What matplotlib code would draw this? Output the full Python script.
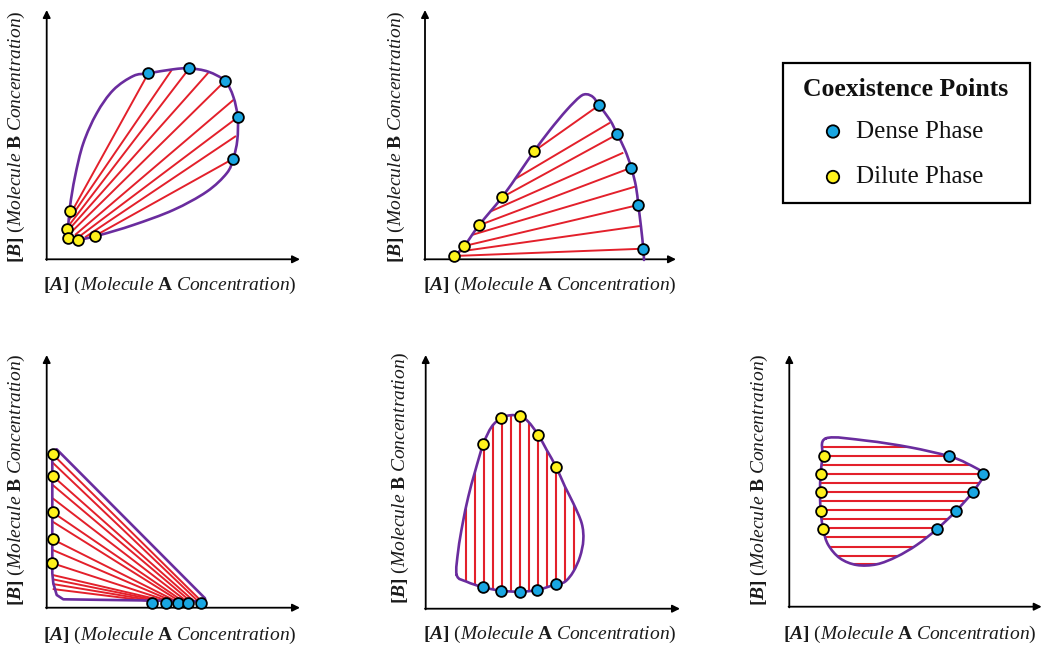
import numpy as np
import matplotlib
matplotlib.use('Agg')
import matplotlib.pyplot as plt
from matplotlib.path import Path
from matplotlib.patches import PathPatch, Rectangle

plt.rcParams['font.family'] = 'Liberation Serif'
plt.rcParams['mathtext.fontset'] = 'custom'
plt.rcParams['mathtext.rm'] = 'Liberation Serif'
plt.rcParams['mathtext.it'] = 'Liberation Serif:italic'
plt.rcParams['mathtext.bf'] = 'Liberation Serif:bold'
plt.rcParams['mathtext.bfit'] = 'Liberation Serif:italic:bold'

W, H = 1050, 652

PURPLE = '#6a2c9e'
RED = '#e3202b'
BLUE = '#19a6e2'
YELLOW = '#fff21c'

XLABEL = r'$\mathbf{[}\mathbfit{A}\mathbf{]}\ \mathit{(Molecule}\ \mathbf{A}\ \mathit{Concentration)}$'
YLABEL = r'$\mathbf{[}\mathbfit{B}\mathbf{]}\ \mathit{(Molecule}\ \mathbf{B}\ \mathit{Concentration)}$'

# ---------------------------------------------------------------- data
# all values are read off the picture, in image pixels (y grows downward)

# panel 1 : fan of tie lines
p1_boundary = [(67.7, 233.3), (70, 206.7), (75, 176.7), (83.3, 143.3), (96.7, 113.3),
               (113.3, 90), (133.3, 76), (148.3, 73.3), (173.3, 69.3), (189.3, 68.3),
               (208.3, 71.7), (225, 81), (233.3, 96.7), (237.7, 117.3), (237.3, 140),
               (233.3, 158.7), (226.7, 173.3), (206.7, 191.7), (173.3, 210), (133.3, 225),
               (100, 235), (80, 239.3), (68.3, 237.3)]
p1_tie_start = [(69, 216.7), (69, 220), (70, 224), (70, 228.3), (71.7, 231.7),
                (75, 235), (78.3, 237.3), (85, 237.3), (94.7, 236)]
p1_tie_end = [(148.3, 73.3), (171.7, 70), (189.3, 68.3), (208.3, 72.7), (225, 81),
              (233.3, 100), (237.7, 117.3), (236, 136), (233.3, 158.7)]
p1_dense = [(148.3, 73.3), (189.3, 68.3), (225, 81), (237.7, 117.3), (233.3, 158.7)]
p1_dilute = [(70, 210.7), (66.7, 229), (67.7, 238.3), (77.7, 240), (94.7, 236)]

# panel 2 : open dome
p2_boundary = [(454, 256.7), (464.3, 246), (479, 225.3), (502, 197.3), (520, 171.7),
               (534.3, 151), (550, 130), (566.7, 110), (580, 96.7), (586.7, 94.3),
               (593.3, 97.3), (599, 105.3), (610, 120), (617.3, 134.3), (625, 150),
               (631.3, 167.7), (636, 186.7), (638.3, 205), (641, 226.7), (643.3, 248.7),
               (644, 260)]
p2_tie_start = [(534.3, 151), (515, 179), (502, 197.3), (490, 211.7), (479, 225.3),
                (471.7, 235), (464.3, 246), (458.3, 251.7), (454, 256)]
p2_tie_end = [(599, 105.3), (610, 122.7), (617.3, 134.3), (623.3, 152.7), (631.3, 167.7),
              (635, 186.7), (638.3, 205), (640, 226), (643.3, 248.7)]
p2_dense = [(599, 105.3), (617.3, 134.3), (631.3, 167.7), (638.3, 205), (643.3, 248.7)]
p2_dilute = [(534.3, 151), (502, 197.3), (479, 225.3), (464.3, 246), (454, 256)]

# panel 3 : triangle
p3_boundary = [(52.3, 451.7), (56.7, 449.3), (205, 598.3), (205, 600), (203.3, 601.3),
               (63.3, 599.3), (56.7, 595), (53.3, 583.3), (52.3, 573.3), (52.3, 453.3)]
p3_tie_y0 = [454.3, 462.7, 476, 485, 498.3, 512.3, 521.7, 539.3, 550, 563.3,
             575, 579.3, 584, 589]
p3_tie_x1 = [201.7, 198.3, 194.3, 190.7, 187, 183.3, 180, 176.7, 173.3, 170,
             166.7, 162.7, 158.3, 153.3]
p3_tie_x0 = 52.7
p3_tie_y1 = 601.5
p3_dense = [(151.7, 603.3), (165.7, 603.3), (177.7, 603.3), (188.3, 603.3), (200.7, 602.7)]
p3_dilute = [(52.7, 454.3), (52.7, 476), (52.7, 512.3), (52.7, 539.3), (52.3, 563.3)]

# panel 4 : vertical tie lines
p4_boundary = [(456.7, 575), (458.3, 550), (462.7, 523.3), (468.3, 496.7), (475, 471.7),
               (483.3, 444), (491.7, 426.7), (501, 418.3), (510, 415.3), (520, 416),
               (528.3, 421.7), (538.3, 435), (546.7, 450), (556, 466.7), (565, 486.7),
               (573.3, 503.3), (581.7, 523.3), (583.3, 540), (580, 556.7), (573.3, 571.7),
               (565, 581.7), (556, 584.3), (537.3, 590), (520, 591.7), (501, 590.7),
               (483.3, 587.3), (466.7, 581.7)]
p4_tie_x = [466, 475, 484, 492.7, 501.7, 510.7, 520, 528.7, 537.7, 546.7, 555.7, 565, 574]
p4_dense = [(483.3, 587.3), (501, 590.7), (520, 591.7), (537.3, 590), (555.7, 584.3)]
p4_dilute = [(483.3, 444), (501, 418.3), (520, 416), (538.3, 435), (556, 466.7)]

# panel 5 : horizontal tie lines
p5_boundary = [(826, 438.3), (866.7, 440.7), (910, 447.3), (948.3, 456), (966.7, 463.3),
               (982.7, 474.3), (972.7, 492), (955.7, 511.3), (936.7, 529.3), (916.7, 545),
               (896.7, 556.7), (876.7, 564.3), (856.7, 565), (840, 558.3), (828.3, 545),
               (823.3, 530), (820.7, 511.7), (820, 492.3), (820.7, 473.3), (822.7, 456.7)]
p5_tie_y = [447.3, 456, 465, 474, 482.7, 491.7, 500.7, 510, 519.3, 528.3, 537.3,
            546.7, 555.7, 564.3]
p5_dense = [(948.7, 456), (982.7, 474.3), (972.7, 492), (955.7, 511.3), (936.7, 529.3)]
p5_dilute = [(824, 456), (821, 473.7), (820.7, 492.3), (820.7, 511.3), (822.7, 529)]

# axis corners, arrow ends, label anchors
origins = [(46.7, 259.3), (425, 259.3), (46.7, 607.7), (425.7, 608.7), (789.3, 606.7)]
x_ends = [300, 676, 300, 680, 1041.7]
y_tops = [10, 10, 355, 355, 355]
xlabel_pos = [(170, 285), (550, 285), (170, 635), (550, 634), (910, 634)]
ylabel_pos = [(16, 137), (396, 137), (16, 480), (400, 478), (759, 480)]
regions = [(0, 0, 360, 325), (365, 0, 725, 325), (0, 325, 360, 652),
           (365, 325, 725, 652), (728, 325, 1050, 652)]


def smooth(pts, closed=True):
    p = np.asarray(pts, float)
    n = len(p)
    verts = [p[0]]
    codes = [Path.MOVETO]
    segs = n if closed else n - 1
    for i in range(segs):
        if closed:
            a, b, c, d = p[i - 1], p[i], p[(i + 1) % n], p[(i + 2) % n]
        else:
            a = p[max(i - 1, 0)]
            b, c = p[i], p[i + 1]
            d = p[min(i + 2, n - 1)]
        verts += [b + (c - a) / 6, c - (d - b) / 6, c]
        codes += [Path.CURVE4] * 3
    return Path(verts, codes)


def make_ax(x0, y0, x1, y1):
    ax = fig.add_axes([x0 / W, 1 - y1 / H, (x1 - x0) / W, (y1 - y0) / H])
    ax.set_xlim(x0, x1)
    ax.set_ylim(y1, y0)
    ax.axis('off')
    return ax


def draw_frame(ax, i):
    ox, oy = origins[i]
    arrow = dict(arrowstyle='-|>', lw=1.3, color='black', mutation_scale=11,
                 shrinkA=0, shrinkB=0)
    ax.annotate('', xy=(x_ends[i], oy), xytext=(ox - 0.7, oy), arrowprops=arrow)
    ax.annotate('', xy=(ox, y_tops[i]), xytext=(ox, oy + 0.7), arrowprops=arrow)
    ax.text(*xlabel_pos[i], XLABEL, ha='center', va='center', fontsize=14,
            color='#1a1a1a', clip_on=False)
    ax.text(*ylabel_pos[i], YLABEL, ha='center', va='center', fontsize=14,
            color='#1a1a1a', rotation=90, clip_on=False)


def draw_outline(ax, path):
    patch = PathPatch(path, fill=False, edgecolor=PURPLE, lw=1.9, zorder=3,
                      joinstyle='round', capstyle='round')
    ax.add_patch(patch)
    return patch


def draw_points(ax, dense, dilute):
    d = np.array(dense)
    l = np.array(dilute)
    ax.scatter(d[:, 0], d[:, 1], s=60, c=BLUE, edgecolors='black', linewidths=1.3, zorder=5)
    ax.scatter(l[:, 0], l[:, 1], s=60, c=YELLOW, edgecolors='black', linewidths=1.3, zorder=5)


def draw_ties(ax, starts, ends):
    for (x0, y0), (x1, y1) in zip(starts, ends):
        ax.plot([x0, x1], [y0, y1], color=RED, lw=1.4, zorder=2, solid_capstyle='butt')


fig = plt.figure(figsize=(W / 100, H / 100), dpi=100)

axes = [make_ax(*r) for r in regions]
for i, ax in enumerate(axes):
    draw_frame(ax, i)

# panel 1
ax = axes[0]
draw_ties(ax, p1_tie_start, p1_tie_end)
draw_outline(ax, smooth(p1_boundary))
draw_points(ax, p1_dense, p1_dilute)

# panel 2
ax = axes[1]
draw_ties(ax, p2_tie_start, p2_tie_end)
draw_outline(ax, smooth(p2_boundary, closed=False))
draw_points(ax, p2_dense, p2_dilute)

# panel 3
ax = axes[2]
draw_ties(ax, [(p3_tie_x0, y) for y in p3_tie_y0], [(x, p3_tie_y1) for x in p3_tie_x1])
draw_outline(ax, Path(p3_boundary + [p3_boundary[0]]))
draw_points(ax, p3_dense, p3_dilute)

# panel 4
ax = axes[3]
outline = draw_outline(ax, smooth(p4_boundary))
vl = ax.vlines(p4_tie_x, 400, 600, color=RED, lw=1.5, zorder=2)
vl.set_clip_path(outline)
draw_points(ax, p4_dense, p4_dilute)

# panel 5
ax = axes[4]
outline = draw_outline(ax, smooth(p5_boundary))
hl = ax.hlines(p5_tie_y, 810, 990, color=RED, lw=1.5, zorder=2)
hl.set_clip_path(outline)
draw_points(ax, p5_dense, p5_dilute)

# legend box
lax = make_ax(760, 40, 1050, 220)
lax.add_patch(Rectangle((782.7, 62.7), 247.3, 140, fill=False, edgecolor='black', lw=1.6))
lax.text(906, 89, 'Coexistence Points', ha='center', va='center', fontsize=18.5,
         fontweight='bold', color='#111111')
lax.scatter([833, 833], [131.5, 177], s=80, c=[BLUE, YELLOW], edgecolors='black',
            linewidths=1.3, zorder=5)
lax.text(856, 131.5, 'Dense Phase', ha='left', va='center', fontsize=18, color='#111111')
lax.text(856, 177, 'Dilute Phase', ha='left', va='center', fontsize=18, color='#111111')

fig.savefig('out.png', dpi=100)
